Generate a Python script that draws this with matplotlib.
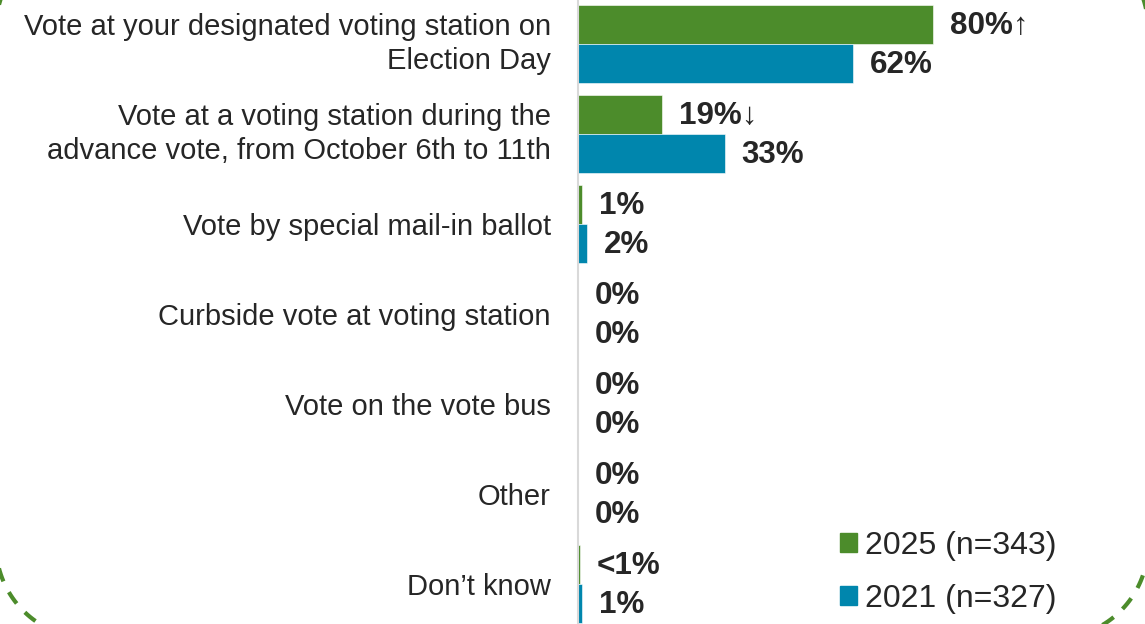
import matplotlib.pyplot as plt
import matplotlib.patches as mpatches
import matplotlib.transforms as mtransforms
from matplotlib.path import Path
import numpy as np

plt.rcParams['font.family'] = ['Liberation Sans', 'DejaVu Sans']

categories = [
    "Vote at your designated voting station on\nElection Day",
    "Vote at a voting station during the\nadvance vote, from October 6th to 11th",
    "Vote by special mail-in ballot",
    "Curbside vote at voting station",
    "Vote on the vote bus",
    "Other",
    "Don\u2019t know",
]
values_2025 = [80, 19, 1, 0, 0, 0, 0.4]
values_2021 = [62, 33, 2, 0, 0, 0, 1]
labels_2025 = ["80%\u2191", "19%\u2193", "1%", "0%", "0%", "0%", "<1%"]
labels_2021 = ["62%", "33%", "2%", "0%", "0%", "0%", "1%"]
series_names = ["2025 (n=343)", "2021 (n=327)"]

GREEN = "#4C8C2B"
BLUE = "#0086AD"
TEXT = "#262626"

W, H = 1145, 624
fig = plt.figure(figsize=(W / 100, H / 100), dpi=100, facecolor="white")
ax = fig.add_axes([578 / W, 0, 444 / W, 1])

y = np.arange(len(categories))
bh = 0.433
b1 = ax.barh(y - bh / 2, values_2025, height=bh, color=GREEN, edgecolor="white", linewidth=0.4)
b2 = ax.barh(y + bh / 2, values_2021, height=bh, color=BLUE, edgecolor="white", linewidth=0.4)

for bars, labs in ((b1, labels_2025), (b2, labels_2021)):
    for rect, lab in zip(bars, labs):
        ax.annotate(lab, (rect.get_width(), rect.get_y() + rect.get_height() / 2),
                    xytext=(12.2, -1), textcoords="offset points",
                    ha="left", va="center", fontsize=22.6, fontweight="bold", color=TEXT)

ax.set_xlim(0, 100)
ax.set_ylim(6.444, -0.489)
ax.set_yticks(y)
ax.set_yticklabels(categories, fontsize=21, color=TEXT, ha="right", linespacing=1.27)
# two-line labels: centre the block and nudge it down a touch
nudge = mtransforms.ScaledTranslation(0, -2 / 100, fig.dpi_scale_trans)
for lab in ax.get_yticklabels():
    if "\n" in lab.get_text():
        lab.set_verticalalignment("center")
        lab.set_transform(lab.get_transform() + nudge)
ax.tick_params(axis="y", length=0, pad=19.5)
ax.set_xticks([])
for s in ("top", "right", "bottom"):
    ax.spines[s].set_visible(False)
ax.spines["left"].set_color("#d9d9d9")
ax.spines["left"].set_linewidth(1.5)

handles = [mpatches.Patch(color=GREEN), mpatches.Patch(color=BLUE)]
fig.legend(handles, series_names, loc="upper left", bbox_to_anchor=(840 / W, 1 - 531 / H),
           frameon=False, fontsize=23, handlelength=0.53, handleheight=0.53,
           handletextpad=0.26, labelspacing=0.72, borderpad=0, borderaxespad=0,
           labelcolor=TEXT)


def rounded_frame(x0, y0, x1, y1, r, n=40):
    # closed outline of a rectangle with circular corners, in pixels
    pts = []
    corners = [(x1 - r, y0 + r, -90, 0), (x1 - r, y1 - r, 0, 90),
               (x0 + r, y1 - r, 90, 180), (x0 + r, y0 + r, 180, 270)]
    for cx, cy, a0, a1 in corners:
        t = np.radians(np.linspace(a0, a1, n))
        pts.extend(zip(cx + r * np.cos(t), cy + r * np.sin(t)))
    pts.append(pts[0])
    return Path(pts)


# dashed frame, mostly running off the canvas
frame = mpatches.PathPatch(rounded_frame(-4, -14, 1148, 689, 93),
                           transform=mtransforms.IdentityTransform(),
                           fill=False, edgecolor=GREEN, linewidth=3,
                           linestyle=(0, (3.3, 2.9)))
fig.add_artist(frame)

fig.savefig("out.png", dpi=100)
